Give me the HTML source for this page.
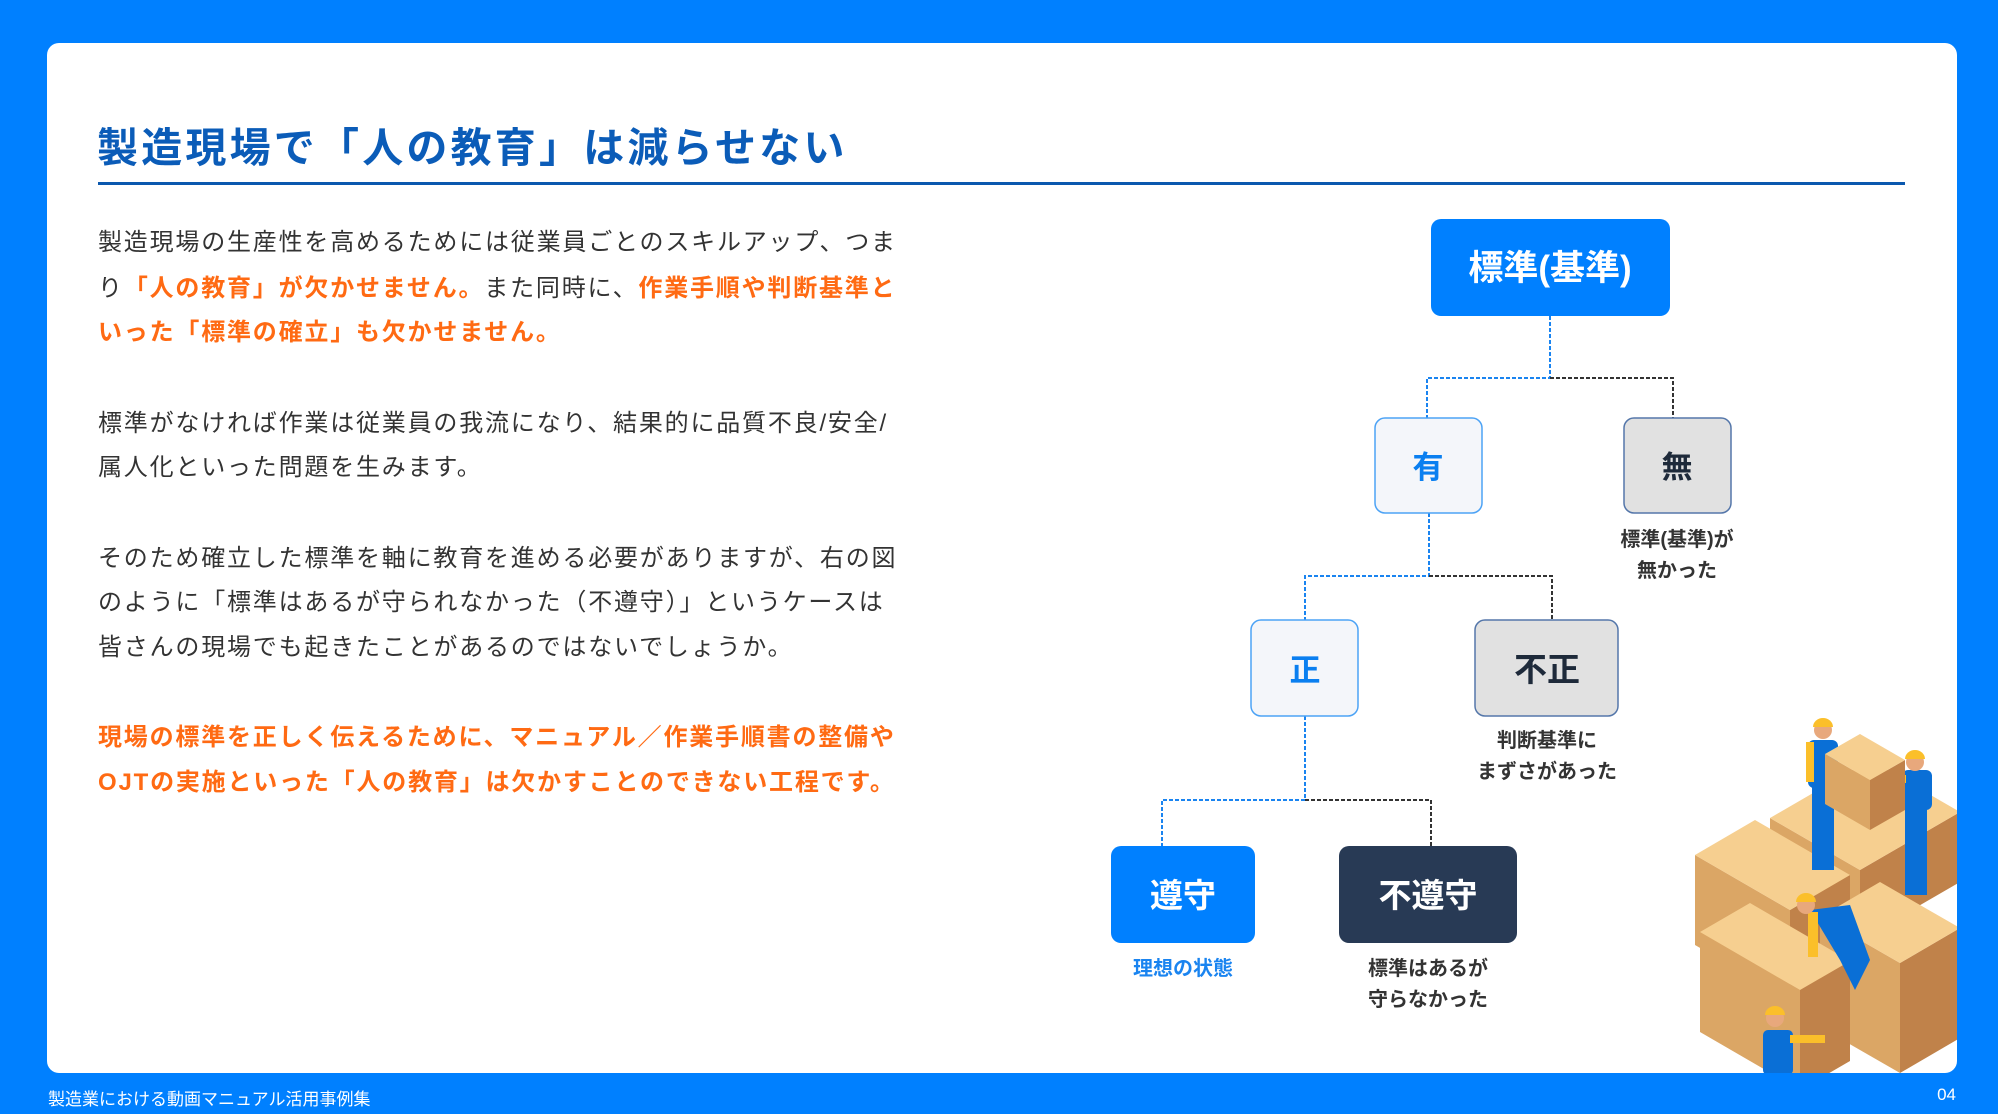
<!DOCTYPE html>
<html><head><meta charset="utf-8">
<style>
*{margin:0;padding:0;box-sizing:border-box}
body{width:1998px;height:1114px;background:#0080ff;position:relative;overflow:hidden;font-family:"Liberation Sans","Noto Sans CJK JP",sans-serif}
.card{position:absolute;left:47px;top:43px;width:1910px;height:1030px;background:#fff;border-radius:12px;overflow:hidden}
.title{position:absolute;left:97px;top:114px;font-size:41px;font-weight:700;color:#0b5cb8;letter-spacing:3.2px;white-space:nowrap}
.rule{position:absolute;left:98px;top:182px;width:1807px;height:3px;background:#0b58ae}
.l{position:absolute;left:98px;font-size:24px;letter-spacing:1.8px;color:#333;white-space:nowrap;line-height:30px}
.o{color:#ff6a13;font-weight:700}
.foot{position:absolute;top:1085px;font-size:17px;color:#fff;white-space:nowrap}
svg{position:absolute;left:0;top:0}
</style></head><body>
<div class="card"></div>
<div class="title">製造現場で「人の教育」は減らせない</div>
<div class="rule"></div>
<div class="l" style="top:228px">製造現場の生産性を高めるためには従業員ごとのスキルアップ、つま</div>
<div class="l" style="top:274px">り<span class="o">「人の教育」が欠かせません。</span>また同時に、<span class="o">作業手順や判断基準と</span></div>
<div class="l" style="top:318px"><span class="o">いった「標準の確立」も欠かせません。</span></div>
<div class="l" style="top:409px">標準がなければ作業は従業員の我流になり、結果的に品質不良/安全/</div>
<div class="l" style="top:453px">属人化といった問題を生みます。</div>
<div class="l" style="top:544px">そのため確立した標準を軸に教育を進める必要がありますが、右の図</div>
<div class="l" style="top:588px">のように「標準はあるが守られなかった（不遵守）」というケースは</div>
<div class="l" style="top:633px">皆さんの現場でも起きたことがあるのではないでしょうか。</div>
<div class="l o" style="top:723px">現場の標準を正しく伝えるために、マニュアル／作業手順書の整備や</div>
<div class="l o" style="top:768px">OJTの実施といった「人の教育」は欠かすことのできない工程です。</div>
<div class="foot" style="left:48px">製造業における動画マニュアル活用事例集</div>
<div class="foot" style="right:42px">04</div>

<svg width="1998" height="1114" viewBox="0 0 1998 1114" font-family="Liberation Sans, Noto Sans CJK JP, sans-serif">
<defs><clipPath id="c"><rect x="47" y="43" width="1910" height="1030" rx="12"/></clipPath></defs>
<g fill="none" stroke-width="2" stroke-dasharray="4 2">
<path d="M1550 316V378H1427V418" stroke="#1a84f0"/>
<path d="M1550 378H1673V418" stroke="#333"/>
<path d="M1429 513V576H1305V620" stroke="#1a84f0"/>
<path d="M1429 576H1552V620" stroke="#333"/>
<path d="M1305 716V800H1162V846" stroke="#1a84f0"/>
<path d="M1305 800H1431V846" stroke="#333"/>
</g>
<rect x="1431" y="219" width="239" height="97" rx="10" fill="#0080ff"/>
<text x="1550" y="280" text-anchor="middle" font-size="35" font-weight="700" fill="#fff">標準(基準)</text>
<rect x="1375" y="418" width="107" height="95" rx="10" fill="#f4f6fa" stroke="#4da3f5" stroke-width="1.5"/>
<text x="1428" y="478" text-anchor="middle" font-size="31" font-weight="700" fill="#0a7ff0">有</text>
<rect x="1624" y="418" width="107" height="95" rx="10" fill="#e1e1e1" stroke="#5577aa" stroke-width="1.5"/>
<text x="1677" y="478" text-anchor="middle" font-size="31" font-weight="700" fill="#1e2a3a">無</text>
<text x="1677" y="546" text-anchor="middle" font-size="20" font-weight="700" fill="#333">標準(基準)が</text>
<text x="1677" y="577" text-anchor="middle" font-size="20" font-weight="700" fill="#333">無かった</text>
<rect x="1251" y="620" width="107" height="96" rx="10" fill="#f4f6fa" stroke="#4da3f5" stroke-width="1.5"/>
<text x="1305" y="681" text-anchor="middle" font-size="31" font-weight="700" fill="#0a7ff0">正</text>
<rect x="1475" y="620" width="143" height="96" rx="10" fill="#e1e1e1" stroke="#5577aa" stroke-width="1.5"/>
<text x="1547" y="681" text-anchor="middle" font-size="33" font-weight="700" fill="#1e2a3a">不正</text>
<text x="1547" y="747" text-anchor="middle" font-size="20" font-weight="700" fill="#333">判断基準に</text>
<text x="1547" y="778" text-anchor="middle" font-size="20" font-weight="700" fill="#333">まずさがあった</text>
<rect x="1111" y="846" width="144" height="97" rx="10" fill="#0080ff"/>
<text x="1183" y="907" text-anchor="middle" font-size="33" font-weight="700" fill="#fff">遵守</text>
<rect x="1339" y="846" width="178" height="97" rx="10" fill="#283a55"/>
<text x="1428" y="907" text-anchor="middle" font-size="33" font-weight="700" fill="#fff">不遵守</text>
<text x="1183" y="975" text-anchor="middle" font-size="20" font-weight="700" fill="#1a84f0">理想の状態</text>
<text x="1428" y="975" text-anchor="middle" font-size="20" font-weight="700" fill="#333">標準はあるが</text>
<text x="1428" y="1006" text-anchor="middle" font-size="20" font-weight="700" fill="#333">守らなかった</text>

<g clip-path="url(#c)">
<polygon points="1860,940 1770,888 1770,818 1860,870" fill="#dba665"/>
<polygon points="1860,940 1960,882 1960,812 1860,870" fill="#c0824a"/>
<polygon points="1860,870 1770,818 1870,760 1960,812" fill="#f6cf90"/>
<polygon points="1790,1000 1695,945 1695,855 1790,910" fill="#dba665"/>
<polygon points="1790,1000 1850,965 1850,875 1790,910" fill="#c0824a"/>
<polygon points="1790,910 1695,855 1755,820 1850,875" fill="#f6cf90"/>
<polygon points="1900,1073 1820,1027 1820,917 1900,963" fill="#dba665"/>
<polygon points="1900,1073 1960,1038 1960,928 1900,963" fill="#c0824a"/>
<polygon points="1900,963 1820,917 1880,882 1960,928" fill="#f6cf90"/>
<polygon points="1800,1090 1700,1032 1700,932 1800,990" fill="#dba665"/>
<polygon points="1800,1090 1850,1061 1850,961 1800,990" fill="#c0824a"/>
<polygon points="1800,990 1700,932 1750,903 1850,961" fill="#f6cf90"/>
<rect x="1812" y="780" width="22" height="90" fill="#0a6fd6"/>
<rect x="1808" y="740" width="30" height="48" rx="6" fill="#0a6fd6"/>
<rect x="1806" y="742" width="8" height="40" fill="#fbbf2a"/>
<circle cx="1823" cy="730" r="9" fill="#e8a87c"/><path d="M1813 727a10 9 0 0 1 20 0z" fill="#fbbf2a"/>
<rect x="1905" y="800" width="22" height="95" fill="#0a6fd6"/>
<rect x="1902" y="770" width="30" height="40" rx="6" fill="#0a6fd6"/>
<rect x="1886" y="775" width="20" height="8" fill="#fbbf2a"/>
<circle cx="1915" cy="762" r="9" fill="#e8a87c"/><path d="M1905 759a10 9 0 0 1 20 0z" fill="#fbbf2a"/>
<polygon points="1870,830 1825,804 1825,754 1870,780" fill="#dba665"/>
<polygon points="1870,830 1905,810 1905,760 1870,780" fill="#c0824a"/>
<polygon points="1870,780 1825,754 1860,734 1905,760" fill="#f6cf90"/>
<path d="M1810 910L1850 905L1870 960L1855 990L1840 960Z" fill="#0a6fd6"/>
<rect x="1808" y="912" width="10" height="45" fill="#fbbf2a"/>
<circle cx="1806" cy="905" r="9" fill="#e8a87c"/><path d="M1796 902a10 9 0 0 1 20 0z" fill="#fbbf2a"/>
<rect x="1763" y="1030" width="30" height="45" rx="5" fill="#0a6fd6"/>
<rect x="1790" y="1035" width="35" height="8" fill="#fbbf2a"/>
<circle cx="1775" cy="1018" r="9" fill="#e8a87c"/><path d="M1765 1015a10 9 0 0 1 20 0z" fill="#fbbf2a"/>
</g>
</svg>
</body></html>
